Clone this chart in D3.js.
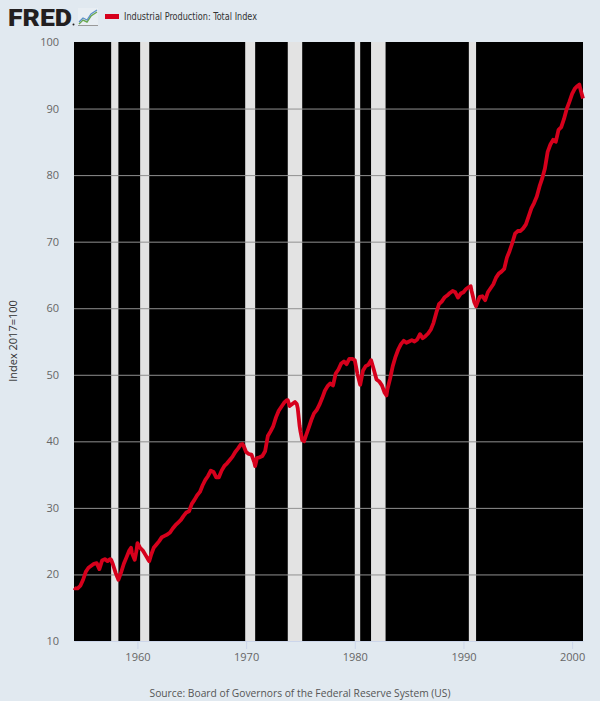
<!DOCTYPE html>
<html><head><meta charset="utf-8">
<script src="https://cdn.jsdelivr.net/npm/d3@7"></script>
<style>body{margin:0;background:#e1e9f0;}svg{display:block;}</style>
</head><body>
<svg id="c" width="600" height="701"></svg>
<script>
// ---- data ----
const dates = ["1954-03","1954-04","1954-07","1954-10","1955-01","1955-04","1955-07","1955-10",
"1956-01","1956-04","1956-07","1956-10","1957-01","1957-04","1957-07","1957-08","1957-10",
"1958-01","1958-04","1958-07","1958-10","1959-01","1959-04","1959-06","1959-07","1959-10","1959-12",
"1960-01","1960-04","1960-07","1960-10","1961-01","1961-02","1961-04","1961-07","1961-10",
"1962-01","1962-04","1962-07","1962-10","1963-01","1963-04","1963-07","1963-10",
"1964-01","1964-04","1964-07","1964-10","1965-01","1965-04","1965-07","1965-10",
"1966-01","1966-04","1966-07","1966-10","1967-01","1967-04","1967-07","1967-10",
"1968-01","1968-04","1968-07","1968-10","1969-01","1969-04","1969-07","1969-09","1969-10",
"1970-01","1970-04","1970-07","1970-10","1970-11","1971-01","1971-04","1971-07","1971-10",
"1972-01","1972-04","1972-07","1972-10","1973-01","1973-04","1973-07","1973-10","1973-11",
"1974-01","1974-04","1974-07","1974-09","1974-10","1974-12","1975-01","1975-03","1975-05","1975-07","1975-10",
"1976-01","1976-04","1976-07","1976-10","1977-01","1977-04","1977-07","1977-10",
"1978-01","1978-04","1978-07","1978-10","1979-01","1979-04","1979-07","1979-10",
"1980-01","1980-04","1980-07","1980-10","1981-01","1981-04","1981-07","1981-10",
"1982-01","1982-04","1982-07","1982-10","1982-12","1983-01","1983-04","1983-07","1983-10",
"1984-01","1984-04","1984-07","1984-10","1985-01","1985-04","1985-07","1985-10",
"1986-01","1986-04","1986-07","1986-10","1987-01","1987-04","1987-07","1987-10",
"1988-01","1988-04","1988-07","1988-10","1989-01","1989-04","1989-07","1989-10",
"1990-01","1990-04","1990-07","1990-09","1990-10","1991-01","1991-03","1991-04","1991-07","1991-10",
"1992-01","1992-04","1992-07","1992-10","1993-01","1993-04","1993-07","1993-10",
"1994-01","1994-04","1994-07","1994-10","1995-01","1995-04","1995-07","1995-10",
"1996-01","1996-04","1996-07","1996-10","1997-01","1997-04","1997-07","1997-10",
"1998-01","1998-04","1998-07","1998-10","1999-01","1999-04","1999-07","1999-10",
"2000-01","2000-04","2000-07","2000-09","2000-10","2001-01"];
const values = [18.0,17.9,17.9,18.3,19.2,20.4,21.0,21.3,
21.6,21.7,20.8,22.1,22.3,22.0,22.3,22.2,21.5,
20.2,19.2,20.3,21.6,22.6,23.6,24.0,23.2,22.2,23.6,
24.7,24.0,23.6,22.9,22.2,22.0,22.9,24.0,24.5,
25.0,25.6,25.8,26.0,26.3,26.9,27.4,27.8,
28.2,28.8,29.3,29.5,30.6,31.2,31.9,32.4,
33.4,34.2,34.8,35.6,35.4,34.6,34.6,35.6,
36.3,36.7,37.2,37.7,38.4,38.9,39.5,39.6,39.4,
38.4,38.1,38.0,36.9,36.3,37.5,37.6,37.8,38.5,
40.8,41.5,42.3,43.6,44.6,45.2,45.8,46.2,46.2,
45.3,45.6,45.9,45.6,45.0,42.4,41.5,40.2,40.0,40.8,42.0,
43.2,44.2,44.7,45.5,46.5,47.6,48.3,48.7,
48.4,50.2,50.8,51.7,52.0,51.6,52.4,52.4,
52.2,50.1,48.5,50.6,51.3,51.5,52.2,50.8,
49.3,49.0,48.4,47.3,46.9,47.8,49.4,51.3,52.7,
53.8,54.6,55.1,54.8,55.0,55.2,55.0,55.3,
56.1,55.5,55.8,56.2,56.8,57.8,59.3,60.6,
61.0,61.6,61.9,62.3,62.6,62.4,61.6,62.2,
62.4,62.9,63.2,63.3,62.6,60.9,60.3,60.7,61.7,61.8,
61.2,62.4,63.0,63.6,64.6,65.2,65.5,65.9,
67.6,68.6,69.8,71.2,71.6,71.6,72.0,72.6,
73.8,75.0,75.8,76.8,78.3,79.5,81.0,83.5,
84.6,85.3,85.0,86.8,87.2,88.4,89.9,91.0,
92.2,93.0,93.4,93.6,93.0,91.5];
const recStart = ["1957-08","1960-04","1969-12","1973-11","1980-01","1981-07","1990-07"];
const recEnd   = ["1958-04","1961-02","1970-11","1975-03","1980-07","1982-11","1991-03"];
const yTicks = [10,20,30,40,50,60,70,80,90,100];
const xTickYears = [1960,1970,1980,1990,2000];
const seriesName = "Industrial Production: Total Index";
const yTitle = "Index 2017=100";
const source = "Source: Board of Governors of the Federal Reserve System (US)";

// ---- drawing ----
const parse = d3.timeParse("%Y-%m");
const svg = d3.select("#c");
const L = 74, R = 583, T = 42, B = 641;
const x = d3.scaleTime().domain([parse("1954-03"), parse("2001-01")]).range([L, R]);
const y = d3.scaleLinear().domain([10, 100]).range([B, T]);

svg.append("rect").attr("x", L).attr("y", T).attr("width", R - L).attr("height", B - T).attr("fill", "#000");
svg.append("g").selectAll("rect").data(recStart.map((s, i) => [parse(s), parse(recEnd[i])]))
  .join("rect")
  .attr("x", d => x(d[0])).attr("width", d => x(d[1]) - x(d[0]))
  .attr("y", T).attr("height", B - T).attr("fill", "#e3e3e3");

// gridlines
svg.append("g").selectAll("line").data(yTicks.filter(v => v > 10 && v < 100)).join("line")
  .attr("x1", L).attr("x2", R).attr("y1", d => y(d) + 0.5).attr("y2", d => y(d) + 0.5)
  .attr("stroke", "#909090").attr("stroke-width", 1);

// y labels
const yAxis = d3.axisLeft(y).tickValues(yTicks).tickSize(0).tickPadding(15);
const gy = svg.append("g").attr("transform", `translate(${L},0)`).call(yAxis);
gy.select(".domain").remove();
gy.selectAll("text").attr("font-family", "Open Sans, Roboto, sans-serif").attr("font-size", 11).attr("fill", "#666");

// x axis
const xAxis = d3.axisBottom(x).tickValues(xTickYears.map(yy => new Date(yy, 0, 1)))
  .tickFormat(d3.timeFormat("%Y")).tickSize(8).tickPadding(4).tickSizeOuter(0);
const gx = svg.append("g").attr("transform", `translate(0,${B})`).call(xAxis);
gx.select(".domain").attr("stroke", "#ccd6eb");
gx.selectAll(".tick line").attr("stroke", "#ccd6eb");
gx.selectAll("text").attr("font-family", "Open Sans, Roboto, sans-serif").attr("font-size", 11).attr("fill", "#666");

// line
const data = dates.map((d, i) => ({ d: parse(d), v: values[i] }));
svg.append("path").datum(data)
  .attr("d", d3.line().x(p => x(p.d)).y(p => y(p.v)))
  .attr("fill", "none").attr("stroke", "#d6001c").attr("stroke-width", 3.8)
  .attr("stroke-linejoin", "round");

// y title
svg.append("text").attr("transform", "translate(17,341) rotate(-90)")
  .attr("text-anchor", "middle").attr("font-family", "Open Sans, Roboto, sans-serif")
  .attr("font-size", 11).attr("fill", "#333").text(yTitle);

// source
svg.append("text").attr("x", 300).attr("y", 697).attr("text-anchor", "middle")
  .attr("font-family", "Open Sans, Roboto, sans-serif").attr("font-size", 11)
  .attr("textLength", 301).attr("lengthAdjust", "spacingAndGlyphs")
  .attr("fill", "#555").text(source);

// legend
svg.append("rect").attr("x", 105).attr("y", 14).attr("width", 14).attr("height", 5).attr("fill", "#d6001c");
svg.append("text").attr("x", 124).attr("y", 20).attr("font-family", "Liberation Sans Narrow, DejaVu Sans Condensed, Roboto, sans-serif")
  .attr("font-size", 11).attr("fill", "#333").attr("textLength", 133).attr("lengthAdjust", "spacingAndGlyphs").text(seriesName);

// FRED logo
svg.append("text").attr("x", 8).attr("y", 26).attr("font-family", "Roboto, Liberation Sans, sans-serif")
  .attr("font-weight", 900).attr("font-size", 24).attr("fill", "#231f20")
  .attr("textLength", 64).attr("lengthAdjust", "spacingAndGlyphs").text("FRED");
svg.append("circle").attr("cx", 73.5).attr("cy", 24.5).attr("r", 1).attr("fill", "#231f20");
const icon = svg.append("g").attr("transform", "translate(78,8)");
icon.append("rect").attr("width", 20).attr("height", 18).attr("fill", "#e8eef3");
icon.append("polyline").attr("points", "1,16 5,12 9,14 13,8 19,4").attr("fill", "none").attr("stroke", "#6aa84f").attr("stroke-width", 1.4);
icon.append("polyline").attr("points", "1,14 5,10 9,12 13,6 19,2").attr("fill", "none").attr("stroke", "#5b8fc7").attr("stroke-width", 1.2);
icon.append("line").attr("x1", 0).attr("x2", 20).attr("y1", 17.5).attr("y2", 17.5).attr("stroke", "#999").attr("stroke-width", 1);
</script>
</body></html>
